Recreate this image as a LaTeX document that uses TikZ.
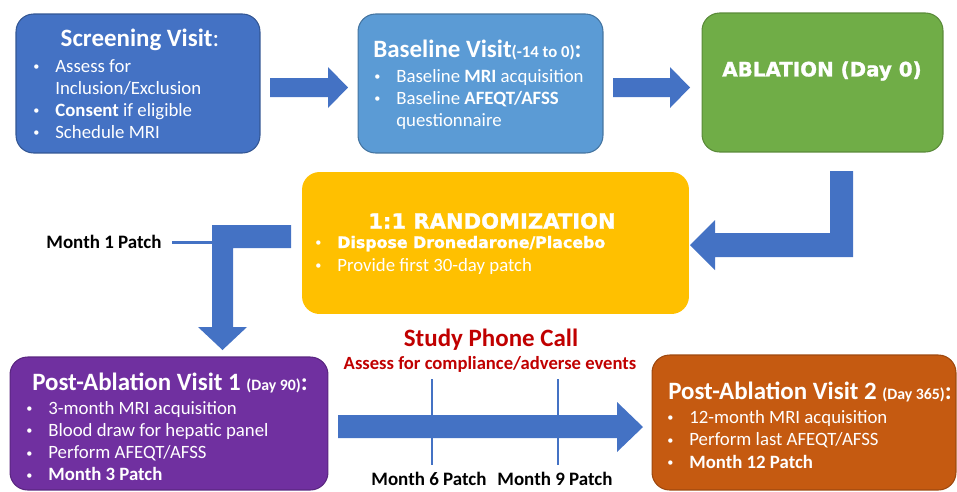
\documentclass[tikz,border=0pt]{standalone}
\usepackage{fontspec}
\setmainfont{Carlito}
\newfontfamily\heavyfont{DejaVu Sans}[BoldFeatures={FakeBold=1.3}]
\definecolor{scrblue}{HTML}{4472C4}
\definecolor{baseblue}{HTML}{5B9BD5}
\definecolor{ablgreen}{HTML}{70AD47}
\definecolor{randgold}{HTML}{FFC000}
\definecolor{postpurple}{HTML}{7030A0}
\definecolor{postorange}{HTML}{C55A11}
\definecolor{callred}{HTML}{C00000}
\newcommand\bul{\makebox[0.44cm][l]{\raisebox{0.8pt}{\fontsize{7}{7}\selectfont\textbullet}}}
\newcommand\ind{\hspace*{0.44cm}}

\begin{document}
\begin{tikzpicture}[x=0.02cm, y=-0.02cm,
    box/.style={rounded corners=10pt, line width=0.6pt},
    item/.style={anchor=base west, inner sep=0pt, text=white, font=\fontsize{10.7}{12}\selectfont},
    head/.style={text=white, inner sep=0pt, font=\fontsize{14.2}{16}\selectfont\bfseries},
    patch/.style={text=black, font=\fontsize{10.8}{12}\selectfont\bfseries},
    blockarrow/.style={fill=scrblue},
    tick/.style={scrblue, line width=1.7pt}]
  \useasboundingbox (0,0) rectangle (957,491);
  \clip (0,0) rectangle (957,491);

  % boxes
  \node[box, fill=scrblue, draw=scrblue!75!black, minimum width=4.88cm, minimum height=2.78cm] (scr) at (138,83.5) {};
  \node[box, fill=baseblue, draw=baseblue!75!black, minimum width=4.9cm, minimum height=2.78cm] (base) at (480.5,83.5) {};
  \node[box, fill=ablgreen, draw=ablgreen!80!black, minimum width=4.82cm, minimum height=2.78cm] (abl) at (822.5,82.5) {};
  \node[box, fill=randgold, minimum width=7.74cm, minimum height=2.84cm] (rand) at (495.5,243) {};
  \node[box, fill=postpurple, draw=postpurple!80!black, minimum width=6.36cm, minimum height=2.66cm] (post1) at (169,423.5) {};
  \node[box, fill=postorange, draw=postorange!80!black, minimum width=6.08cm, minimum height=2.7cm] (post2) at (804,422.5) {};

  % screening
  \node[head] (scrT) at (140,40) {Screening Visit\mdseries:};
  \foreach \t [count=\i] in {{\bul Assess for}, {\ind Inclusion/Exclusion}, {\bul\textbf{Consent} if eligible}, {\bul Schedule MRI}}
    \node[item] (scr\i) at (33,{72+22*(\i-1)}) {\t};

  % baseline
  \node[head] (baseT) at (477.5,50) {Baseline Visit{\fontsize{9.5}{10}\selectfont(-14 to 0)}:};
  \foreach \t [count=\i] in {{\bul Baseline \textbf{MRI} acquisition}, {\bul Baseline \textbf{AFEQT/AFSS}}, {\ind questionnaire}}
    \node[item] (base\i) at (374,{82+22*(\i-1)}) {\t};

  % ablation
  \node[head, font=\heavyfont\fontsize{11.3}{13}\selectfont\bfseries] (ablT) at (822,71) {ABLATION (Day 0)};

  % randomization
  \node[head, font=\heavyfont\fontsize{12}{14}\selectfont\bfseries] (randT) at (492,221) {1:1 RANDOMIZATION};
  \node[item] (rand1) at (315,248) {\bul{\heavyfont\fontsize{9}{11}\selectfont\bfseries Dispose Dronedarone/Placebo}};
  \node[item] (rand2) at (315,271) {\bul Provide first 30-day patch};

  % post-ablation 1
  \node[head] (post1T) at (170,383) {Post-Ablation Visit 1 {\fontsize{9}{10}\selectfont(Day 90)}:};
  \foreach \t [count=\i] in {{\bul 3-month MRI acquisition}, {\bul Blood draw for hepatic panel}, {\bul Perform AFEQT/AFSS}, {\bul\textbf{Month 3 Patch}}}
    \node[item] (post1\i) at (26,{414+22.3*(\i-1)}) {\t};

  % post-ablation 2
  \node[head] (post2T) at (810,392) {Post-Ablation Visit 2 {\fontsize{9}{10}\selectfont(Day 365)}:};
  \foreach \t [count=\i] in {{\bul 12-month MRI acquisition}, {\bul Perform last AFEQT/AFSS}, {\bul\textbf{Month 12 Patch}}}
    \node[item] (post2\i) at (667,{423+22.5*(\i-1)}) {\t};

  % block arrows
  \fill[blockarrow] (270,78) -- (328,78) -- (328,67) -- (348,87.5) -- (328,108) -- (328,97) -- (270,97) -- cycle;
  \fill[blockarrow] (613,78) -- (670,78) -- (670,67) -- (690,87.5) -- (670,108) -- (670,97) -- (613,97) -- cycle;
  \fill[blockarrow] (830,171) -- (853,171) -- (853,257) -- (715,257) -- (715,270) -- (690,245) -- (715,220) -- (715,233) -- (830,233) -- cycle;
  \fill[blockarrow] (212,225) -- (291,225) -- (291,248) -- (233,248) -- (233,327) -- (247,327) -- (222.5,350) -- (198,327) -- (212,327) -- cycle;
  \fill[blockarrow] (338,415) -- (617,415) -- (617,402) -- (643,427) -- (617,452) -- (617,438) -- (338,438) -- cycle;

  % patches and phone call
  \node[patch, inner sep=6pt] (m1) at (104,242) {Month 1 Patch};
  \coordinate (m1end) at (212,242);
  \draw[tick] (m1.east) -- (m1end);
  \node[text=callred, font=\fontsize{14.2}{16}\selectfont\bfseries] (call) at (491,340) {Study Phone Call};
  \node[text=callred, font=\fontsize{10.6}{12}\selectfont\bfseries] (assess) at (490,364) {Assess for compliance/adverse events};
  \node[patch] (m6) at (429,479) {Month 6 Patch};
  \node[patch] (m9) at (555,479) {Month 9 Patch};
  \coordinate (t6top) at (432,379);
  \coordinate (t6bot) at (432,465);
  \coordinate (t9top) at (558,379);
  \coordinate (t9bot) at (558,465);
  \draw[tick] (t6top) -- (t6bot);
  \draw[tick] (t9top) -- (t9bot);
\end{tikzpicture}
\end{document}
